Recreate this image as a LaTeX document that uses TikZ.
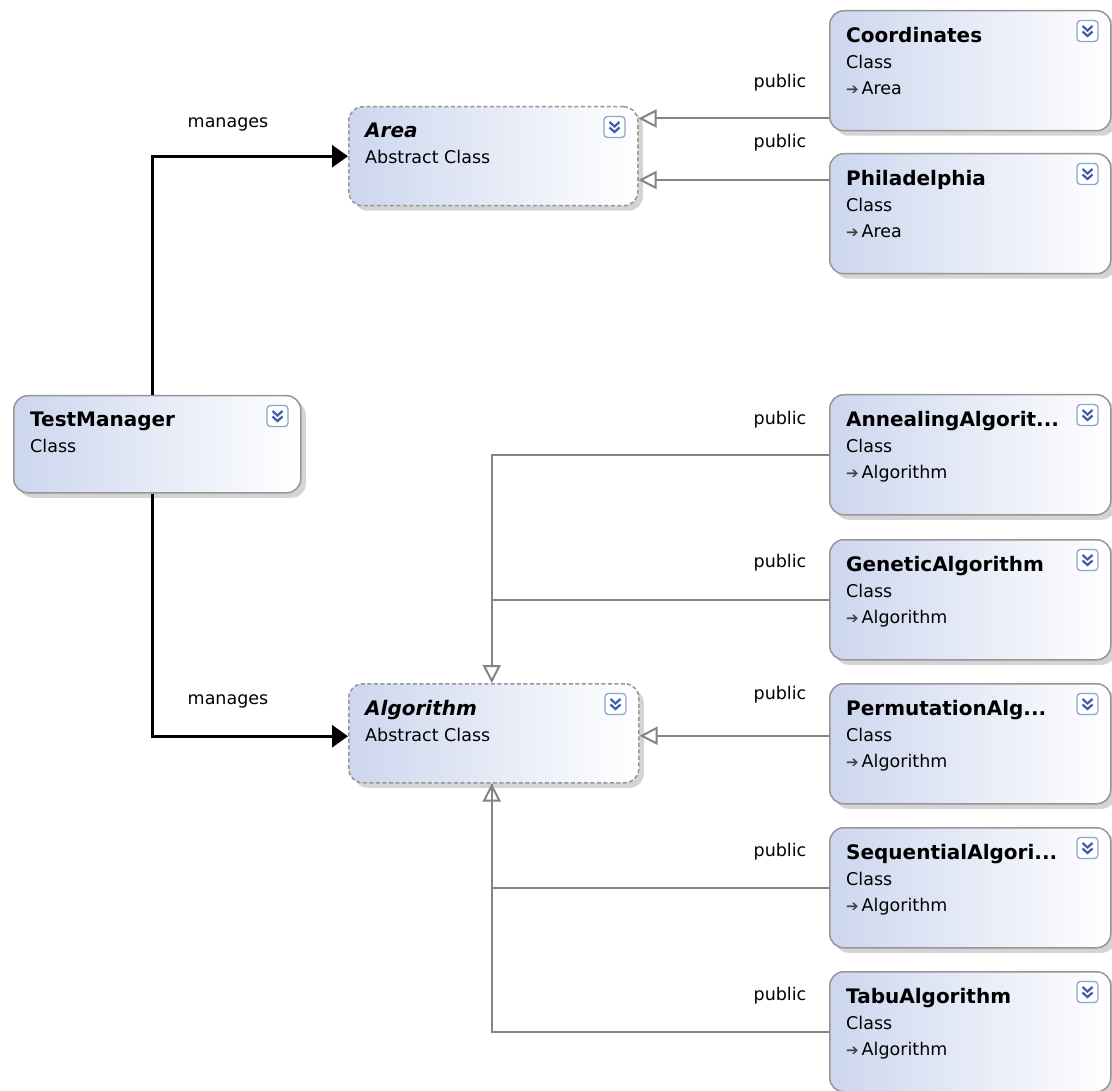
\documentclass[tikz,border=0pt]{standalone}
\usepackage{fontspec}
\setmainfont{DejaVu Sans}
\usetikzlibrary{positioning}
\usetikzlibrary{arrows.meta,shadows}

\definecolor{boxleft}{RGB}{204,214,238}
\definecolor{boxline}{RGB}{150,150,150}
\definecolor{linkgray}{RGB}{132,132,132}
\definecolor{iconblue}{RGB}{62,92,172}
\definecolor{iconline}{RGB}{140,165,205}

\tikzset{
  classbox/.style = {draw = boxline, line width = 1.5pt, rounded corners = 14pt,
    left color = boxleft, right color = white,
    drop shadow = {shadow xshift = 5pt, shadow yshift = -5pt, fill = black!17, opacity = 1}},
  abstractbox/.style = {classbox, dash pattern = on 4pt off 2.5pt},
  boxtext/.style = {align = left, inner sep = 0pt, font = \fontsize{17.5}{26}\selectfont},
  linklabel/.style = {inner sep = 0pt, font = \fontsize{17.5}{20}\selectfont},
  icon/.style = {draw = iconline, line width = 1.3pt, rounded corners = 3.5pt, fill = white,
    minimum size = 21pt, inner sep = 0pt},
  chevron/.style = {draw = iconblue, line width = 2.2pt},
  inherits/.style = {draw = linkgray, line width = 2pt,
    -{Triangle[length = 18pt, width = 18pt, fill = white]}},
  manages/.style = {draw = black, line width = 3pt, -{Triangle[length = 16pt, width = 22pt]}}
}

% box name, north west corner, width, height, style, text
\newcommand{\classnode}[6]{
  \node [#5, minimum width = #3, minimum height = #4, anchor = north west] (#1) at #2 {};
  \node [boxtext, anchor = north west] (#1t) at ([xshift = 17pt, yshift = -17pt] #1.north west) {#6};
  \node [icon] (#1i) at ([xshift = -24pt, yshift = -21pt] #1.north east) {};
  \draw [chevron] ([xshift = -5pt, yshift = 5pt] #1i.center) -- ++(5pt, -4.5pt) -- ++(5pt, 4.5pt);
  \draw [chevron] ([xshift = -5pt, yshift = -0.5pt] #1i.center) -- ++(5pt, -4.5pt) -- ++(5pt, 4.5pt);
}
\newcommand{\ttl}[1]{{\fontsize{20}{26}\selectfont\bfseries #1}}
\newcommand{\attl}[1]{{\fontsize{20}{26}\selectfont\bfseries\itshape #1}}
\newcommand{\base}[1]{{\fontsize{15}{26}\selectfont\color{black!75}➔}\,#1}

\begin{document}
\begin{tikzpicture}[x = 1pt, y = -1pt]
  \useasboundingbox [fill = white] (0, 0) rectangle (1112, 1091);

  \classnode{area}{(348, 106)}{289pt}{99pt}{abstractbox}{\attl{Area}\\Abstract Class}
  \classnode{coord}{(829, 10)}{281pt}{120pt}{classbox}{\ttl{Coordinates}\\Class\\\base{Area}}
  \classnode{phil}{(829, 153)}{281pt}{120pt}{classbox}{\ttl{Philadelphia}\\Class\\\base{Area}}
  \classnode{tm}{(13, 395)}{287pt}{97pt}{classbox}{\ttl{TestManager}\\Class}
  \classnode{algo}{(348, 683)}{290pt}{99pt}{abstractbox}{\attl{Algorithm}\\Abstract Class}
  \classnode{ann}{(829, 394)}{281pt}{120pt}{classbox}{\ttl{AnnealingAlgorit...}\\Class\\\base{Algorithm}}
  \classnode{gen}{(829, 539)}{281pt}{120pt}{classbox}{\ttl{GeneticAlgorithm}\\Class\\\base{Algorithm}}
  \classnode{perm}{(829, 683)}{281pt}{120pt}{classbox}{\ttl{PermutationAlg...}\\Class\\\base{Algorithm}}
  \classnode{seq}{(829, 827)}{281pt}{120pt}{classbox}{\ttl{SequentialAlgori...}\\Class\\\base{Algorithm}}
  \classnode{tabu}{(829, 971)}{281pt}{120pt}{classbox}{\ttl{TabuAlgorithm}\\Class\\\base{Algorithm}}

  % associations
  \draw [manages] ([xshift = -5pt] tm.north) |- (area.west);
  \draw [manages] ([xshift = -5pt] tm.south) |- ([yshift = -3pt] algo.west);
  \node [linklabel] (manArea) at (228, 124) {manages};
  \node [linklabel] (manAlgo) at (228, 701) {manages};

  % inheritance
  \coordinate (top) at ([xshift = -2pt] algo.north);
  \coordinate (bot) at ([xshift = -2pt] algo.south);
  \draw [inherits] ([yshift = 13pt] coord.south west) coordinate (c1) -- (c1 -| area.east);
  \draw [inherits] ([yshift = -27pt] phil.north west) coordinate (c2) -- (c2 -| area.east);
  \draw [inherits] (ann.west) -| (top);
  \draw [linkgray, line width = 2pt] (gen.west) -- (gen.west -| top);
  \draw [inherits] ([yshift = 8pt] perm.west) coordinate (c3) -- (c3 -| algo.east);
  \draw [inherits] (seq.west) -| (bot);
  \draw [linkgray, line width = 2pt] (tabu.west) -| (bot);

  \node [linklabel] (pubCoord) at (780, 83) {public};
  \node [linklabel] (pubPhil) at (780, 143) {public};
  \node [linklabel] (pubAnn) at (780, 420) {public};
  \node [linklabel] (pubGen) at (780, 563) {public};
  \node [linklabel] (pubPerm) at (780, 695) {public};
  \node [linklabel] (pubSeq) at (780, 852) {public};
  \node [linklabel] (pubTabu) at (780, 996) {public};
\end{tikzpicture}
\end{document}
